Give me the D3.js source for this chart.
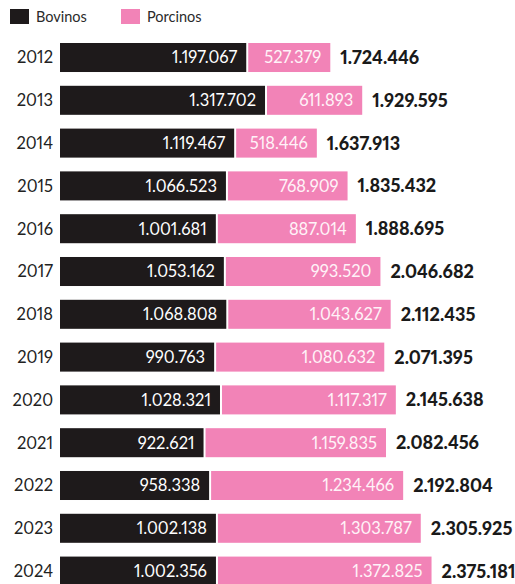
<!DOCTYPE html>
<html>
<head>
<meta charset="utf-8">
<script src="https://cdn.jsdelivr.net/npm/d3@7"></script>
<style>
  html, body { margin: 0; padding: 0; background: #fff; }
  svg { display: block; }
  text { font-variant-numeric: proportional-nums; }
  .narrow { font-family: "Lato", "Roboto", sans-serif; }
  .total { font-family: "Lato", "Roboto", sans-serif; font-weight: 900; }
</style>
</head>
<body>
<svg id="chart" width="515" height="584"></svg>
<script>
  'use strict';

  var years = ['2012', '2013', '2014', '2015', '2016', '2017', '2018',
    '2019', '2020', '2021', '2022', '2023', '2024'];
  var bovinos = [1197067, 1317702, 1119467, 1066523, 1001681, 1053162, 1068808,
    990763, 1028321, 922621, 958338, 1002138, 1002356];
  var porcinos = [527379, 611893, 518446, 768909, 887014, 993520, 1043627,
    1080632, 1117317, 1159835, 1234466, 1303787, 1372825];
  var totals = [1724446, 1929595, 1637913, 1835432, 1888695, 2046682, 2112435,
    2071395, 2145638, 2082456, 2192804, 2305925, 2375181];
  var seriesNames = ['Bovinos', 'Porcinos'];
  var seriesColors = ['#1e1a1b', '#f283b7'];

  var locale = d3.formatLocale({ decimal: ',', thousands: '.', grouping: [3], currency: ['', ' €'] });
  var fmt = locale.format(',d');

  var svg = d3.select('#chart');
  var gap = 2;

  var rows = years.map(function(year, i) {
    return { year: year, bov: bovinos[i], por: porcinos[i], total: totals[i] };
  });

  var y = d3.scaleBand()
    .domain(years)
    .range([43, 585.6])
    .paddingInner(0.322)
    .paddingOuter(0);

  var x = d3.scaleLinear()
    .domain([0, 2400000])
    .range([60, 60 + 373.4]);

  // legend
  var legend = svg.append('g').attr('class', 'legend');
  var legendX = [10, 121];
  seriesNames.forEach(function(name, i) {
    legend.append('rect')
      .attr('x', legendX[i]).attr('y', 9)
      .attr('width', 19).attr('height', 15)
      .attr('fill', seriesColors[i]);
    legend.append('text')
      .attr('class', 'narrow')
      .attr('x', legendX[i] + 26).attr('y', 22)
      .attr('font-size', 14.5)
      .attr('fill', '#2a2a2a')
      .text(name);
  });

  var row = svg.selectAll('.row')
    .data(rows)
    .enter().append('g')
    .attr('class', 'row')
    .attr('transform', function(d) { return 'translate(0,' + y(d.year) + ')'; });

  var bh = y.bandwidth();

  row.append('text')
    .attr('class', 'narrow')
    .attr('x', 53).attr('y', bh / 2)
    .attr('dy', '0.36em')
    .attr('text-anchor', 'end')
    .attr('font-size', 16.5)
    .attr('fill', '#222')
    .text(function(d) { return d.year; });

  row.append('rect')
    .attr('x', x(0))
    .attr('height', bh)
    .attr('width', function(d) { return x(d.bov) - x(0); })
    .attr('fill', seriesColors[0]);

  row.append('rect')
    .attr('x', function(d) { return x(d.bov) + gap; })
    .attr('height', bh)
    .attr('width', function(d) { return x(d.por) - x(0); })
    .attr('fill', seriesColors[1]);

  row.append('text')
    .attr('class', 'narrow')
    .attr('x', function(d) { return x(d.bov) - 9; })
    .attr('y', bh / 2)
    .attr('dy', '0.36em')
    .attr('text-anchor', 'end')
    .attr('font-size', 16.5)
    .attr('fill', '#fff')
    .text(function(d) { return fmt(d.bov); });

  row.append('text')
    .attr('class', 'narrow')
    .attr('x', function(d) { return x(d.bov) + gap + x(d.por) - x(0) - 9; })
    .attr('y', bh / 2)
    .attr('dy', '0.36em')
    .attr('text-anchor', 'end')
    .attr('font-size', 16.5)
    .attr('fill', '#fff3f8')
    .text(function(d) { return fmt(d.por); });

  row.append('text')
    .attr('class', 'total')
    .attr('x', function(d) { return x(d.bov) + gap + x(d.por) - x(0) + 10; })
    .attr('y', bh / 2)
    .attr('dy', '0.36em')
    .attr('font-size', 18)
    .attr('fill', '#1a1a1a')
    .text(function(d) { return fmt(d.total); });
</script>
</body>
</html>
